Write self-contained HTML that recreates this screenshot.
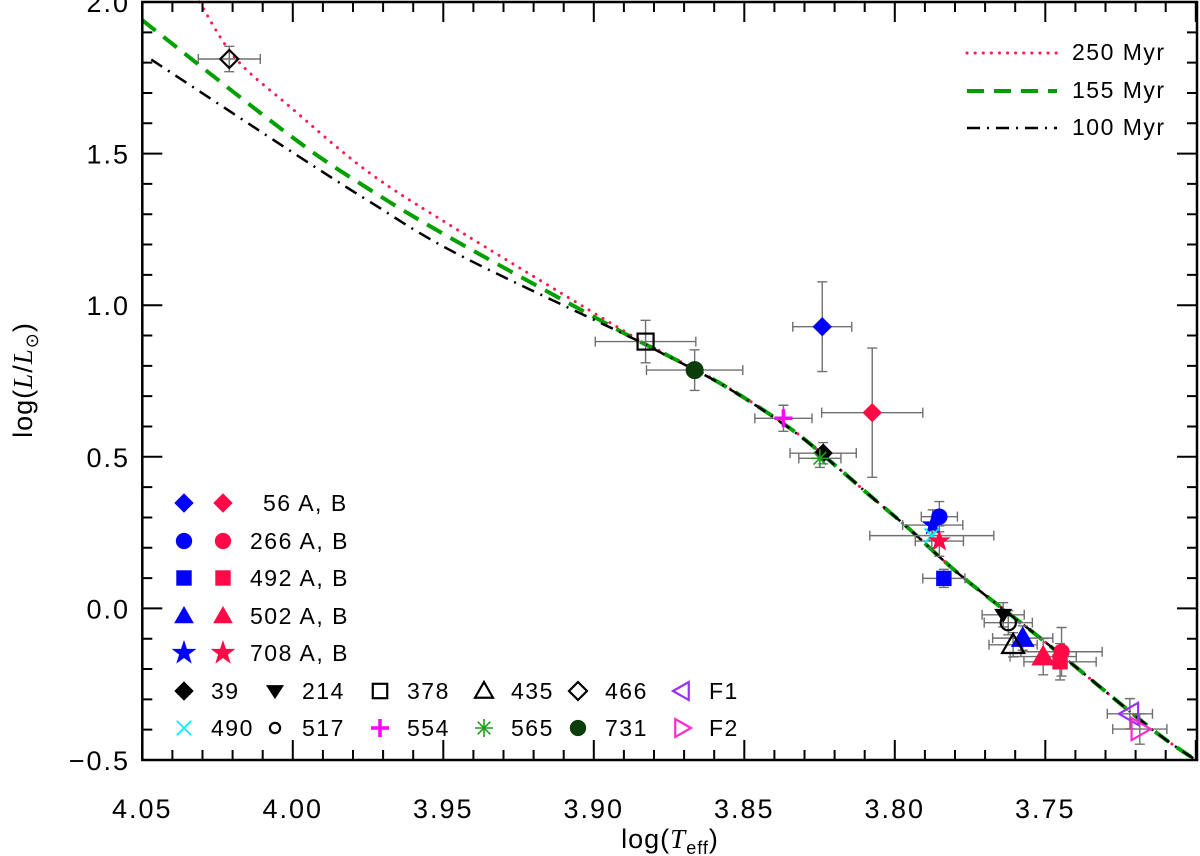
<!DOCTYPE html>
<html><head><meta charset="utf-8"><style>
html,body{margin:0;padding:0;background:#fff;}
svg{display:block;font-family:"Liberation Sans","DejaVu Sans",sans-serif;}
</style></head><body>
<svg id="chart" width="1200" height="856" viewBox="0 0 1200 856" xmlns="http://www.w3.org/2000/svg">
<g id="isos"></g>
<g id="errs"></g>
<g id="marks"></g>
<g id="axes"></g>
<g id="legend"></g>
<text x="670" y="848" font-size="27" text-anchor="middle" letter-spacing="1">log(<tspan font-family="Liberation Serif" font-style="italic">T</tspan><tspan font-size="18" dy="6">eff</tspan><tspan dy="-6">)</tspan></text>
<text transform="translate(32,380) rotate(-90)" font-size="27" text-anchor="middle" letter-spacing="1">log(<tspan font-family="Liberation Serif" font-style="italic">L</tspan>/<tspan font-family="Liberation Serif" font-style="italic">L</tspan><tspan font-size="18" dy="6">⊙</tspan><tspan dy="-6">)</tspan></text>
</svg>
<script>
// ---- data ----
const starIds = ["466","378","731","56A","56B","554","39","565","266A","708A","490","708B","492A","214","517","502A","435","502B","266B","492B","F1","F2"];
const logTeff = [4.0211,3.8828,3.8665,3.8241,3.8075,3.837,3.8238,3.8249,3.7852,3.7874,3.7877,3.7852,3.7837,3.764,3.7623,3.7575,3.7607,3.7507,3.7446,3.7451,3.7219,3.7186];
const logL    = [1.812,0.880,0.786,0.929,0.6455,0.627,0.512,0.495,0.3025,0.275,0.24,0.222,0.099,-0.021,-0.047,-0.098,-0.12,-0.159,-0.143,-0.176,-0.3476,-0.398];
const errTeff = [0.0103,0.0167,0.016,0.0098,0.0168,0.0095,0.011,0.007,0.006,0.01,0.0206,0.008,0.007,0.007,0.008,0.01,0.008,0.011,0.0135,0.012,0.0075,0.009];
const errL    = [0.042,0.07,0.067,0.148,0.213,0.043,0.035,0.03,0.05,0.05,0.04,0.05,0.03,0.04,0.04,0.04,0.04,0.06,0.08,0.06,0.05,0.05];
const markType = ["diamond-o","square-o","circle","diamond","diamond","plus","diamond","asterisk","circle","star","x","star","square","dtri","circle-o","triangle","triangle-o","triangle","circle","square","ltri-o","rtri-o"];
const markColor = ["#000","#000","#0b3d0b","#0000ff","#ff0a47","#ff00ff","#000","#1fa01f","#0000ff","#0000ff","#00f0ff","#ff0a47","#0000ff","#000","#000","#0000ff","#000","#ff0a47","#ff0a47","#ff0a47","#9a30ff","#ff2ad0"];

const iso250T = [4.031,4.019,4.001,3.975,3.9455,3.89,3.878,3.856,3.834,3.818,3.808,3.796,3.778,3.7495,3.715,3.70];
const iso250L = [2.0,1.814,1.655,1.44,1.25,0.915,0.849,0.732,0.589,0.456,0.37,0.269,0.108,-0.115,-0.395,-0.50];
const iso155T = [4.05,4.001,3.975,3.9455,3.89,3.878,3.856,3.834,3.818,3.808,3.796,3.778,3.7495,3.715,3.70];
const iso155L = [1.94,1.56,1.385,1.21,0.908,0.847,0.731,0.588,0.456,0.37,0.269,0.108,-0.115,-0.395,-0.50];
const iso100T = [4.047,4.001,3.975,3.9455,3.89,3.878,3.856,3.834,3.818,3.808,3.796,3.778,3.7495,3.715,3.70];
const iso100L = [1.81,1.51,1.345,1.17,0.905,0.845,0.73,0.587,0.456,0.37,0.269,0.108,-0.115,-0.395,-0.50];

const xTickLabels = ["4.05","4.00","3.95","3.90","3.85","3.80","3.75"];
const yTickLabels = ["-0.5","0.0","0.5","1.0","1.5","2.0"];

// ---- axes functions ----
const X0=142.3, XL=1197, YT=2, YB=760;
function X(v){return X0+(4.05-v)*3010;}
function Y(v){return YT+(2-v)*303.2;}
const NS="http://www.w3.org/2000/svg";
function mk(tag,attrs,parent){const e=document.createElementNS(NS,tag);for(const k in attrs)e.setAttribute(k,attrs[k]);parent.appendChild(e);return e;}

// isochrones (Catmull-Rom smoothed)
const isos=document.getElementById('isos');
function isoPath(T,L){
  const P=T.map((t,i)=>[X(t),Y(L[i])]);
  let d='M'+P[0][0].toFixed(1)+','+P[0][1].toFixed(1);
  for(let i=0;i<P.length-1;i++){
    const p0=P[i-1]||P[i],p1=P[i],p2=P[i+1],p3=P[i+2]||P[i+1];
    const c1=[p1[0]+(p2[0]-p0[0])/6,p1[1]+(p2[1]-p0[1])/6];
    const c2=[p2[0]-(p3[0]-p1[0])/6,p2[1]-(p3[1]-p1[1])/6];
    d+=`C${c1[0].toFixed(1)},${c1[1].toFixed(1)} ${c2[0].toFixed(1)},${c2[1].toFixed(1)} ${p2[0].toFixed(1)},${p2[1].toFixed(1)}`;
  }
  return d;
}
let p=mk('path',{d:isoPath(iso250T,iso250L),fill:'none',stroke:'#ff1a4d','stroke-width':3,'stroke-dasharray':'0.1 8','stroke-linecap':'round'},isos);


p=mk('path',{d:isoPath(iso155T,iso155L),fill:'none',stroke:'#00a000','stroke-width':4,'stroke-dasharray':'17 10'},isos);


p=mk('path',{d:isoPath(iso100T,iso100L),fill:'none',stroke:'#000','stroke-width':2.5,'stroke-dasharray':'13 7 2 7'},isos);



// marker drawing
function marker(type,cx,cy,color,parent,s){
  s=s||9;
  const open=type.endsWith('-o'); const t=type.replace('-o','');
  const fill=open?'none':color; const st={stroke:color,'stroke-width':open?2.2:1,fill:fill};
  let e;
  if(t==='diamond') e=mk('polygon',Object.assign({points:`${cx},${cy-s} ${cx+s},${cy} ${cx},${cy+s} ${cx-s},${cy}`},st),parent);
  else if(t==='circle') e=mk('circle',Object.assign({cx:cx,cy:cy,r:s*0.85},st),parent);
  else if(t==='square') e=mk('rect',Object.assign({x:cx-s*0.8,y:cy-s*0.8,width:s*1.6,height:s*1.6},st),parent);
  else if(t==='triangle') e=mk('polygon',Object.assign({points:`${cx},${cy-s} ${cx+s},${cy+s*0.75} ${cx-s},${cy+s*0.75}`},st),parent);
  else if(t==='dtri') e=mk('polygon',Object.assign({points:`${cx-s*0.9},${cy-s*0.6} ${cx+s*0.9},${cy-s*0.6} ${cx},${cy+s*0.8}`},st),parent);
  else if(t==='ltri') e=mk('polygon',Object.assign({points:`${cx-s},${cy} ${cx+s*0.75},${cy-s} ${cx+s*0.75},${cy+s}`},st),parent);
  else if(t==='rtri') e=mk('polygon',Object.assign({points:`${cx+s},${cy} ${cx-s*0.75},${cy-s} ${cx-s*0.75},${cy+s}`},st),parent);
  else if(t==='star'){let pts=[];for(let i=0;i<10;i++){const r=i%2?s*0.45:s*1.15;const a=-Math.PI/2+i*Math.PI/5;pts.push((cx+r*Math.cos(a)).toFixed(1)+','+(cy+r*Math.sin(a)).toFixed(1));}e=mk('polygon',Object.assign({points:pts.join(' ')},st),parent);}
  else if(t==='plus') e=mk('path',{d:`M${cx-s},${cy}H${cx+s}M${cx},${cy-s}V${cy+s}`,stroke:color,'stroke-width':3.5,fill:'none'},parent);
  else if(t==='x') e=mk('path',{d:`M${cx-s*0.8},${cy-s*0.8}L${cx+s*0.8},${cy+s*0.8}M${cx-s*0.8},${cy+s*0.8}L${cx+s*0.8},${cy-s*0.8}`,stroke:color,'stroke-width':1.8,fill:'none'},parent);
  else if(t==='asterisk') e=mk('path',{d:`M${cx-s},${cy}H${cx+s}M${cx},${cy-s}V${cy+s}M${cx-s*0.7},${cy-s*0.7}L${cx+s*0.7},${cy+s*0.7}M${cx-s*0.7},${cy+s*0.7}L${cx+s*0.7},${cy-s*0.7}`,stroke:color,'stroke-width':1.6,fill:'none'},parent);
  return e;
}

// error bars + points
const errs=document.getElementById('errs'), marks=document.getElementById('marks');
for(let i=0;i<starIds.length;i++){
  const cx=X(logTeff[i]), cy=Y(logL[i]);
  const x1=X(logTeff[i]+errTeff[i]), x2=X(logTeff[i]-errTeff[i]);
  const y1=Y(logL[i]+errL[i]), y2=Y(logL[i]-errL[i]);
  const eb=mk('path',{d:`M${x1},${cy}H${x2}M${x1},${cy-5}V${cy+5}M${x2},${cy-5}V${cy+5}M${cx},${y1}V${y2}M${cx-5},${y1}H${cx+5}M${cx-5},${y2}H${cx+5}`,stroke:'#707070','stroke-width':1.4,fill:'none'},errs);
  
  
}
for(let i=0;i<starIds.length;i++){
  const t=markType[i];
  const sz=(t==='circle'&&starIds[i]==='731')?10:(t==='square-o'?10:(t.startsWith('triangle')||t.endsWith('tri-o'))?11:9);
  const m=marker(t,X(logTeff[i]),Y(logL[i]),markColor[i],marks,sz);
  
  
}

// axes
const axes=document.getElementById('axes');
mk('rect',{x:X0,y:YT,width:XL-X0,height:YB-YT,fill:'none',stroke:'#000','stroke-width':2.5},axes);
let d='';
for(let k=0;k<=35;k++){const v=4.05-k*0.01;const x=X(v);const L=(k%5===0)?20:10;d+=`M${x},${YB}V${YB-L}M${x},${YT}V${YT+L}`;}
for(let k=0;k<=25;k++){const v=-0.5+k*0.1;const y=Y(v);const L=(k%5===0)?20:10;d+=`M${X0},${y}H${X0+L}M${XL},${y}H${XL-L}`;}
const tk=mk('path',{d:d,stroke:'#000','stroke-width':2,fill:'none'},axes);


xTickLabels.forEach(s=>{const t=mk('text',{x:X(parseFloat(s)),y:818,'font-size':27,'text-anchor':'middle','letter-spacing':2,fill:'#000'},axes);t.textContent=s;
  
  });
yTickLabels.forEach(s=>{const v=parseFloat(s);const t=mk('text',{x:130,y:Y(v)+10,'font-size':27,'text-anchor':'end','letter-spacing':2,fill:'#000'},axes);t.textContent=s.replace('-','\u2212');
  
  });

// legends
const lg=document.getElementById('legend');
function txt(x,y,s,name){const t=mk('text',{x:x,y:y+8,'font-size':23,'letter-spacing':1.5,fill:'#000'},lg);t.textContent=s;
  
  }
const pairRows=[["diamond","56 A, B",263],["circle","266 A, B",250],["square","492 A, B",250],["triangle","502 A, B",250],["star","708 A, B",250]];
const rowY=[503,541,578,616,653,691,728];
pairRows.forEach((r,i)=>{marker(r[0],184,rowY[i],'#0000ff',lg,r[0]==='star'?10:9);marker(r[0],223,rowY[i],'#ff0a47',lg,r[0]==='star'?10:9);txt(r[2],rowY[i],r[1],'legend-entry-'+r[1].split(' ')[0]);});
const singles=[[["diamond","#000","39"],["dtri","#000","214"],["square-o","#000","378"],["triangle-o","#000","435"],["diamond-o","#000","466"],["ltri-o","#9a30ff","F1"]],
               [["x","#00f0ff","490"],["circle-o","#000","517"],["plus","#ff00ff","554"],["asterisk","#1fa01f","565"],["circle","#0b3d0b","731"],["rtri-o","#ff2ad0","F2"]]];
const colX=[184,275,380,484,578,682];
singles.forEach((row,ri)=>row.forEach((c,ci)=>{const y=rowY[5+ri];marker(c[0],colX[ci],y,c[1],lg,c[0]==='circle-o'?6:9);txt(colX[ci]+27,y,c[2],'legend-entry-'+c[2]);}));
// isochrone legend
const isoLeg=[["250 Myr",'#ff1a4d',3,'0.1 8','round'],["155 Myr",'#00a000',4,'17 10','butt'],["100 Myr",'#000',2.5,'13 7 2 7','butt']];
isoLeg.forEach((r,i)=>{const y=[53,91,128][i];const l=mk('path',{d:`M967,${y}H1057`,stroke:r[1],'stroke-width':r[2],'stroke-dasharray':r[3],'stroke-linecap':r[4]},lg);
  
  
  txt(1072,y-1,r[0],'legend-label-'+r[0].split(' ')[0]);});
</script>
</body></html>
